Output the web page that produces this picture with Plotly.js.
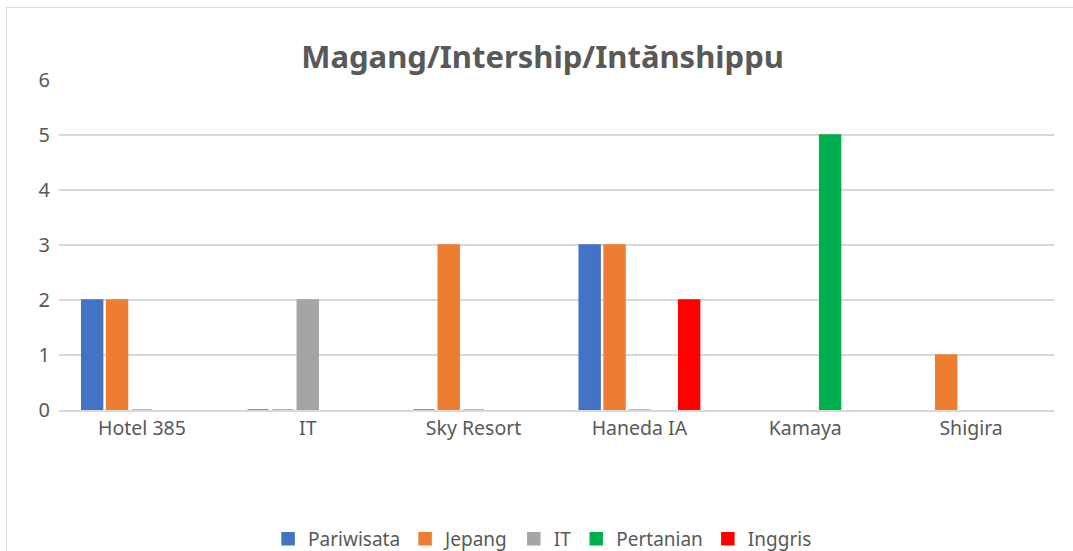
<!DOCTYPE html>
<html>
<head>
<meta charset="utf-8">
<script src="https://cdn.plot.ly/plotly-3.0.1.min.js"></script>
<style>
  html, body { margin: 0; padding: 0; background: #fff; overflow: hidden; }
  #chart { position: absolute; left: 0; top: 0; width: 1073px; height: 551px; }
  #frame { position: absolute; left: 6px; top: 7px; width: 1200px; height: 700px;
           border-left: 1.5px solid #d9d9d9; border-top: 1.5px solid #d9d9d9; pointer-events: none; }
</style>
</head>
<body>
<div id="chart"></div>
<div id="frame"></div>
<script>
const categories = ["Hotel 385", "IT", "Sky Resort", "Haneda IA", "Kamaya", "Shigira"];
const seriesNames = ["Pariwisata", "Jepang", "IT", "Pertanian", "Inggris"];
const pariwisata = [2, 0, 0, 3, null, null];
const jepang     = [2, 0, 3, 3, null, 1];
const it         = [0, 2, 0, 0, null, null];
const pertanian  = [null, null, null, null, 5, null];
const inggris    = [null, null, null, 2, null, null];
const colors = ["#4472C4", "#ED7D31", "#A5A5A5", "#00B050", "#FF0000"];
const yTicks = [0, 1, 2, 3, 4, 5, 6];

const seriesValues = [pariwisata, jepang, it, pertanian, inggris];
const font = "Noto Sans, Open Sans, sans-serif";

const traces = seriesValues.map((vals, i) => ({
  type: "bar",
  name: seriesNames[i],
  x: categories,
  y: vals,
  marker: { color: colors[i], line: { color: colors[i], width: 1.5 } },
  hoverinfo: "x+y+name"
}));

const layout = {
  width: 1073,
  height: 551,
  paper_bgcolor: "rgba(0,0,0,0)",
  plot_bgcolor: "#ffffff",
  margin: { l: 59, r: 19, t: 80, b: 141 },
  barmode: "group",
  bargap: 0.25,
  bargroupgap: 0.16,
  font: { family: font, color: "#595959", size: 19 },
  title: {
    text: "<b>Magang/Intership/Intănshippu</b>",
    font: { family: font, size: 31, color: "#595959" },
    xref: "paper", x: 0.486, xanchor: "center",
    yref: "container", y: 1 - 57 / 551, yanchor: "middle"
  },
  xaxis: {
    type: "category",
    showgrid: false,
    showline: true,
    linecolor: "#d9d9d9",
    linewidth: 1.5,
    ticks: "",
    tickfont: { family: font, size: 19.5, color: "#595959" },
    fixedrange: true
  },
  yaxis: {
    range: [0, 6],
    tickvals: yTicks,
    ticktext: yTicks.map(String),
    showgrid: true,
    gridcolor: "#d9d9d9",
    gridwidth: 1.5,
    zeroline: false,
    showline: false,
    ticks: "",
    ticklabelstandoff: 8,
    tickfont: { family: font, size: 20, color: "#595959" },
    fixedrange: true
  },
  showlegend: true,
  legend: {
    orientation: "h",
    xref: "paper", x: 0.486, xanchor: "center",
    yref: "container", y: 1 - 539 / 551, yanchor: "middle",
    font: { family: font, size: 19, color: "#595959" },
    itemwidth: 30,
    traceorder: "normal"
  }
};

Plotly.newPlot("chart", traces, layout, { displayModeBar: false, staticPlot: true });
</script>
</body>
</html>
